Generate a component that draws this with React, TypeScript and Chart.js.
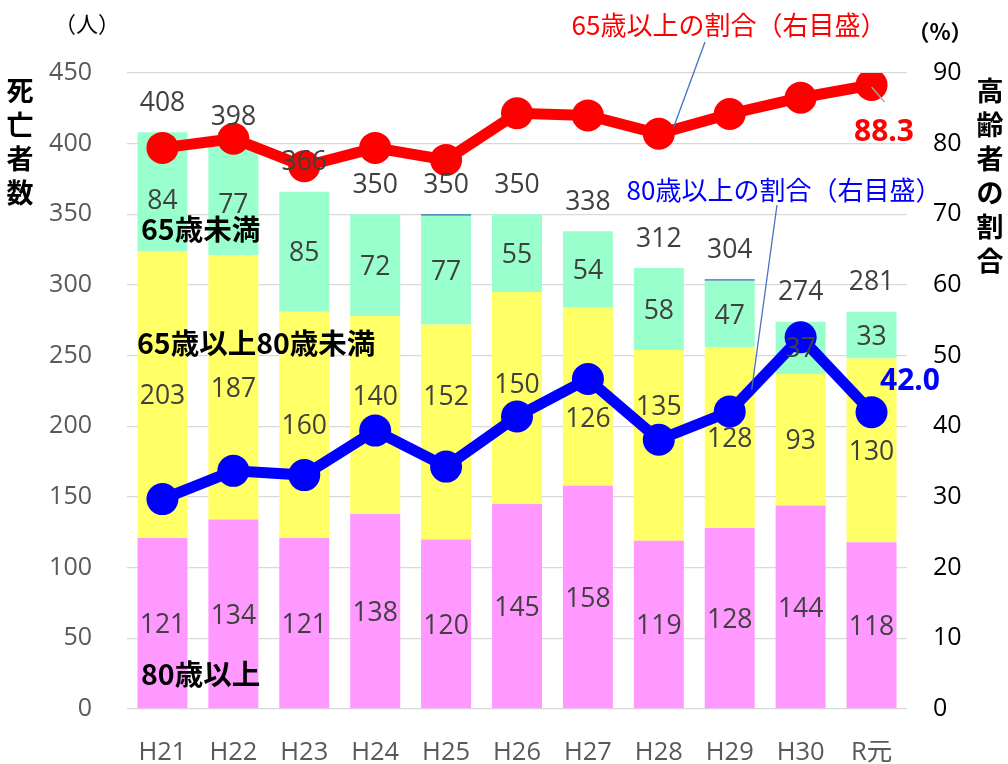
import React, { useEffect, useRef } from "react";
import { Chart, registerables } from "chart.js";

Chart.register(...registerables);

const categories = ["H21", "H22", "H23", "H24", "H25", "H26", "H27", "H28", "H29", "H30", "R元"];
const over80 = [121, 134, 121, 138, 120, 145, 158, 119, 128, 144, 118];
const age65to80 = [203, 187, 160, 140, 152, 150, 126, 135, 128, 93, 130];
const under65 = [84, 77, 85, 72, 77, 55, 54, 58, 47, 37, 33];
const unknownAge = [0, 0, 0, 0, 1, 0, 0, 0, 1, 0, 0];
const totals = [408, 398, 366, 350, 350, 350, 338, 312, 304, 274, 281];
const share65 = [79.4, 80.7, 76.8, 79.4, 77.7, 84.3, 84.0, 81.4, 84.2, 86.5, 88.3];
const share80 = [29.7, 33.7, 33.1, 39.4, 34.3, 41.4, 46.7, 38.1, 42.1, 52.6, 42.0];

const leftAxis = { min: 0, max: 450, step: 50 };
const rightAxis = { min: 0, max: 90, step: 10 };

const NUM_FONT = "'Open Sans', 'Noto Sans CJK JP', sans-serif";
const JP_FONT = "'Noto Sans CJK JP', sans-serif";

// manual label nudges (pixels) for middle-segment labels moved off the line
const midLabelNudge: Record<number, number> = { 3: -20, 4: -37, 5: -15, 6: 21, 7: -40 };
const topLabelNudge: Record<number, number> = { 0: 8, 1: 3 };

const labelPlugin = {
  id: "customLabels",
  afterDatasetsDraw(chart: any) {
    const ctx = chart.ctx as CanvasRenderingContext2D;
    const xs = chart.scales.x;
    const y = chart.scales.y;
    const y1 = chart.scales.y1;
    ctx.save();

    // leader lines
    ctx.strokeStyle = "#4472C4";
    ctx.lineWidth = 1.3;
    const i65 = 7;
    const p65x = xs.getPixelForValue(i65);
    const p65y = y1.getPixelForValue(share65[i65]);
    ctx.beginPath();
    ctx.moveTo(705, 42);
    ctx.lineTo(p65x + 15, p65y - 7);
    ctx.stroke();

    const i80 = 8;
    const p80x = xs.getPixelForValue(i80);
    const p80y = y1.getPixelForValue(share80[i80]);
    ctx.beginPath();
    ctx.moveTo(777, 205);
    ctx.lineTo(p80x + 22, p80y - 22);
    ctx.stroke();

    // 88.3 small leader
    const iLast = categories.length - 1;
    const lx = xs.getPixelForValue(iLast);
    const ly = y1.getPixelForValue(share65[iLast]);
    ctx.strokeStyle = "#A6A6A6";
    ctx.lineWidth = 1.3;
    ctx.beginPath();
    ctx.moveTo(lx, ly + 2);
    ctx.lineTo(lx + 13, ly + 17);
    ctx.stroke();

    // segment labels
    ctx.font = `26.5px ${NUM_FONT}`;
    ctx.fillStyle = "#404040";
    ctx.textAlign = "center";
    ctx.textBaseline = "middle";
    for (let i = 0; i < categories.length; i++) {
      const cx = xs.getPixelForValue(i);
      const a = over80[i];
      const b = age65to80[i];
      const c = under65[i];
      ctx.fillText(String(a), cx, y.getPixelForValue(a / 2) + 2);
      ctx.fillText(String(b), cx, y.getPixelForValue(a + b / 2) + 2 + (midLabelNudge[i] || 0));
      ctx.fillText(String(c), cx, y.getPixelForValue(a + b + c / 2) + 2 + (topLabelNudge[i] || 0));
      ctx.fillText(String(totals[i]), cx, y.getPixelForValue(totals[i]) - 29);
    }

    // value callouts
    ctx.font = `bold 30px ${NUM_FONT}`;
    ctx.fillStyle = "#FF0000";
    ctx.textAlign = "center";
    ctx.fillText(share65[iLast].toFixed(1), 884, 132);
    ctx.fillStyle = "#0000FF";
    ctx.fillText(share80[iLast].toFixed(1), 910, 381);

    // series annotations
    ctx.font = `26px ${JP_FONT}`;
    ctx.fillStyle = "#FF0000";
    ctx.fillText("65歳以上の割合（右目盛）", 729, 25);
    ctx.fillStyle = "#0000FF";
    ctx.fillText("80歳以上の割合（右目盛）", 784, 190);

    // category annotations
    ctx.font = `bold 28.5px ${JP_FONT}`;
    ctx.fillStyle = "#000000";
    ctx.textAlign = "left";
    ctx.fillText("65歳未満", 141, 229);
    ctx.fillText("65歳以上80歳未満", 137, 343);
    ctx.fillText("80歳以上", 141, 674);

    // units
    ctx.font = `22px ${JP_FONT}`;
    ctx.textAlign = "center";
    ctx.fillStyle = "#000000";
    ctx.fillText("（人）", 87, 24);
    ctx.font = `bold 22px ${JP_FONT}`;
    ctx.fillText("（%）", 940, 32);

    // vertical axis titles
    ctx.font = `bold 27px ${JP_FONT}`;
    const leftTitle = "死亡者数";
    for (let k = 0; k < leftTitle.length; k++) {
      ctx.fillText(leftTitle[k], 20, 91 + k * 34);
    }
    const rightTitle = "高齢者の割合";
    for (let k = 0; k < rightTitle.length; k++) {
      ctx.fillText(rightTitle[k], 990, 91 + k * 34);
    }

    ctx.restore();
  },
};

export default function App() {
  const ref = useRef<HTMLCanvasElement>(null);
  useEffect(() => {
    document.body.style.margin = "0";
    const chart = new Chart(ref.current as HTMLCanvasElement, {
      type: "bar",
      data: {
        labels: categories,
        datasets: [
          { type: "line", label: "65歳以上の割合", data: share65, yAxisID: "y1", borderColor: "#FF0000", backgroundColor: "#FF0000", borderWidth: 11, pointRadius: 16, pointBorderWidth: 0, pointBackgroundColor: "#FF0000", order: 0 },
          { type: "line", label: "80歳以上の割合", data: share80, yAxisID: "y1", borderColor: "#0000FF", backgroundColor: "#0000FF", borderWidth: 11, pointRadius: 16, pointBorderWidth: 0, pointBackgroundColor: "#0000FF", order: 0 },
          { type: "bar", label: "80歳以上", data: over80, backgroundColor: "#FF99FF", yAxisID: "y", order: 1 },
          { type: "bar", label: "65歳以上80歳未満", data: age65to80, backgroundColor: "#FFFF66", yAxisID: "y", order: 1 },
          { type: "bar", label: "65歳未満", data: under65, backgroundColor: "#99FFCC", yAxisID: "y", order: 1 },
          { type: "bar", label: "不明", data: unknownAge, backgroundColor: "#2E75B6", yAxisID: "y", order: 1, minBarLength: 0 },
        ] as any,
      },
      options: {
        responsive: false,
        animation: false,
        datasets: { bar: { barPercentage: 0.705, categoryPercentage: 1 } } as any,
        layout: { padding: { top: 73, left: 0, right: 0, bottom: 0 } },
        plugins: { legend: { display: false }, tooltip: { enabled: false } },
        scales: {
          x: {
            stacked: true,
            grid: { display: false },
            border: { display: false },
            ticks: { color: "#595959", font: { family: NUM_FONT, size: 25.5 }, padding: 20 },
            afterFit: (s: any) => { s.height = 55; },
          },
          y: {
            stacked: true,
            position: "left",
            min: leftAxis.min,
            max: leftAxis.max,
            ticks: { stepSize: leftAxis.step, color: "#595959", font: { family: NUM_FONT, size: 25 }, padding: 35 },
            grid: { color: "#D9D9D9", lineWidth: 1.3, drawTicks: false },
            border: { display: false },
            afterFit: (s: any) => { s.width = 127; },
          },
          y1: {
            position: "right",
            min: rightAxis.min,
            max: rightAxis.max,
            ticks: { stepSize: rightAxis.step, color: "#000000", font: { family: NUM_FONT, size: 25 }, padding: 26 },
            grid: { display: false, drawTicks: false },
            border: { display: false },
            afterFit: (s: any) => { s.width = 101; },
          },
        },
      } as any,
      plugins: [labelPlugin],
    });
    return () => chart.destroy();
  }, []);
  return (
    <div style={{ width: 1008, height: 764 }}>
      <canvas ref={ref} width={1008} height={764} style={{ display: "block" }} />
    </div>
  );
}
